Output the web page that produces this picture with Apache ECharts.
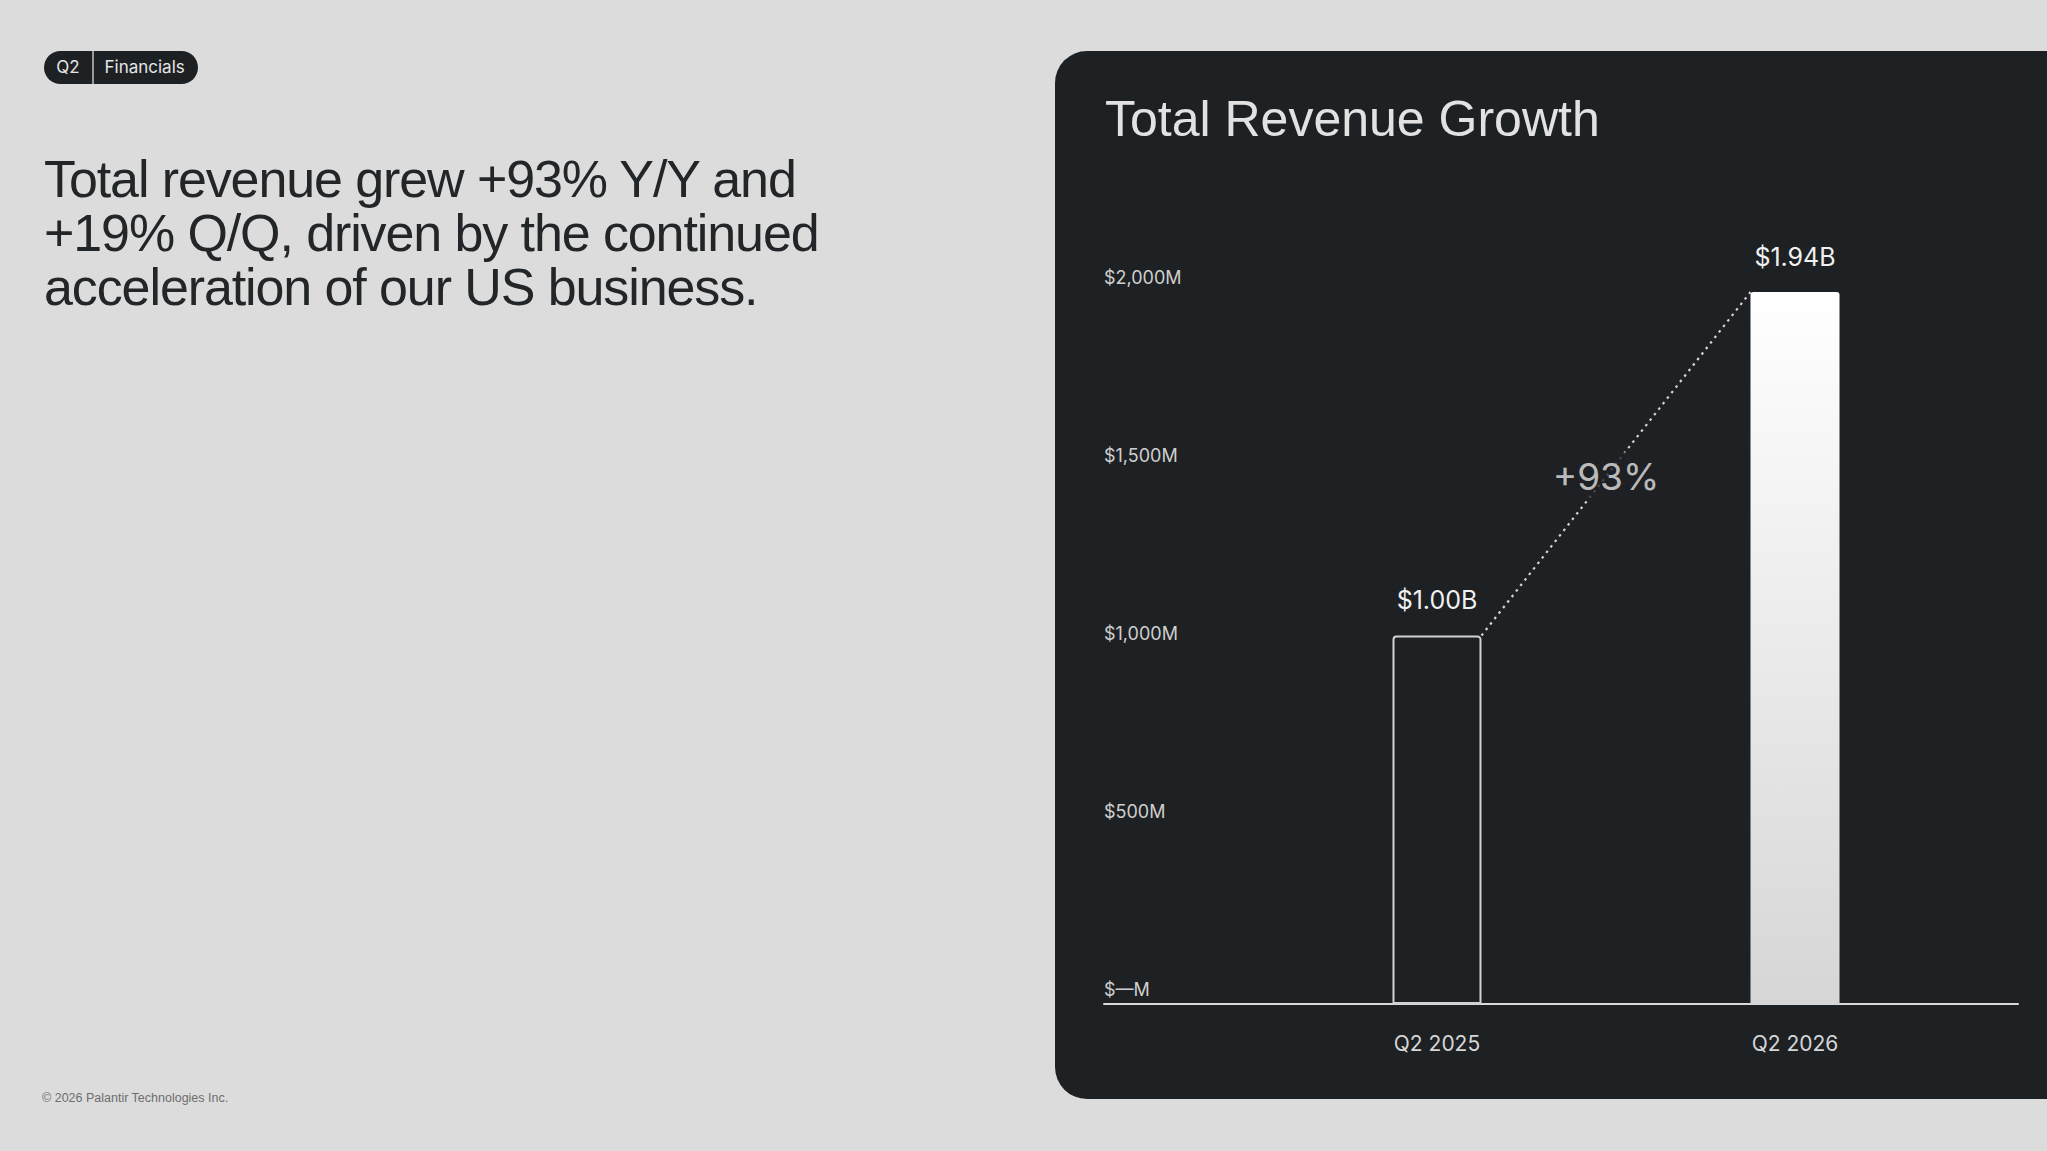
<!DOCTYPE html>
<html>
<head>
<meta charset="utf-8">
<title>Total Revenue Growth</title>
<script src="https://cdn.jsdelivr.net/npm/echarts@6/dist/echarts.min.js"></script>
<style>
    html, body {
        margin: 0;
        padding: 0;
        width: 2047px;
        height: 1151px;
        overflow: hidden;
        background: #dcdcdc;
    }
    .pill {
        position: absolute;
        left: 44px;
        top: 51px;
        height: 33px;
        display: flex;
        align-items: center;
        background: #1e2124;
        border-radius: 17px;
        color: #e6e6e6;
        font-family: Inter, sans-serif;
        font-size: 17px;
    }
    .pill span {
        display: block;
        line-height: 33px;
    }
    .pill .q {
        width: 48px;
        text-align: center;
    }
    .pill .sep {
        width: 1.5px;
        height: 33px;
        background: #9a9a9a;
    }
    .pill .f {
        padding: 0 13px 0 11px;
    }
    .headline {
        position: absolute;
        left: 44px;
        top: 152px;
        margin: 0;
        font-family: "Liberation Sans", Arial, sans-serif;
        font-weight: normal;
        font-size: 52px;
        line-height: 54px;
        letter-spacing: -1.1px;
        color: #232629;
    }
    .footer {
        position: absolute;
        left: 42px;
        top: 1091px;
        font-family: "Liberation Sans", Arial, sans-serif;
        font-size: 12.5px;
        line-height: 15px;
        color: #6e6e6e;
    }
    #panel {
        position: absolute;
        left: 1055px;
        top: 51px;
        width: 992px;
        height: 1048px;
        background: #1e2124;
        border-radius: 32px 0 0 32px;
    }
</style>
</head>
<body>
<div class="pill"><span class="q">Q2</span><span class="sep"></span><span class="f">Financials</span></div>
<h1 class="headline">Total revenue grew +93% Y/Y and<br>+19% Q/Q, driven by the continued<br>acceleration of our US business.</h1>
<div class="footer">© 2026 Palantir Technologies Inc.</div>
<div id="panel"></div>
<script>
// revenue in $M
var quarters = ['Q2 2025', 'Q2 2026'];
var revenue = [1004, 1940];
var valueLabels = ['$1.00B', '$1.94B'];
var growthLabel = '+93%';
var yTicks = [0, 500, 1000, 1500, 2000];
var yTickLabels = ['$\u2014M', '$500M', '$1,000M', '$1,500M', '$2,000M'];

var panelColor = '#1e2124';
var barWidth = 89;
var categoryWidth = 358;
// bar corners in the hidden value axis (category i centred on i)
var barHalf = barWidth / 2 / categoryWidth;

var chartDom = document.getElementById('panel');
var myChart = echarts.init(chartDom, null, { renderer: 'svg' });
var option;

option = {
    backgroundColor: 'transparent',
    animation: false,
    title: {
        text: 'Total Revenue Growth',
        left: 50,
        top: 43,
        padding: 0,
        textStyle: {
            fontFamily: '"Liberation Sans", Arial, sans-serif',
            fontWeight: 'normal',
            fontSize: 50,
            color: '#e2e2e2'
        }
    },
    grid: [
        { left: 49, right: 29, top: 241, bottom: 95 },
        { left: 203, right: 73, top: 219, bottom: 95 }
    ],
    xAxis: [
        {
            gridIndex: 0,
            type: 'value',
            min: 0,
            max: 1,
            axisLine: { show: true, lineStyle: { color: '#d9d9d9', width: 2 } },
            axisTick: { show: false },
            axisLabel: { show: false },
            splitLine: { show: false }
        },
        {
            gridIndex: 1,
            type: 'category',
            data: quarters,
            axisLine: { show: false },
            axisTick: { show: false },
            axisLabel: {
                margin: 29,
                fontFamily: 'Inter, sans-serif',
                fontSize: 21,
                color: '#d6d6d6'
            }
        },
        {
            gridIndex: 1,
            type: 'value',
            min: -0.5,
            max: 1.5,
            show: false
        }
    ],
    yAxis: [
        {
            gridIndex: 0,
            type: 'value',
            min: yTicks[0],
            max: yTicks[yTicks.length - 1],
            interval: 500,
            axisLine: { show: false },
            axisTick: { show: false },
            splitLine: { show: false },
            axisLabel: {
                inside: true,
                margin: 0,
                align: 'left',
                verticalAlign: 'bottom',
                padding: [0, 0, 6, 0],
                fontFamily: 'Inter, sans-serif',
                fontSize: 18,
                color: '#cfcfcf',
                formatter: function (value) {
                    return yTickLabels[yTicks.indexOf(value)];
                }
            }
        },
        {
            gridIndex: 1,
            type: 'value',
            min: 0,
            max: 2000,
            show: false
        }
    ],
    series: [
        {
            type: 'bar',
            xAxisIndex: 1,
            yAxisIndex: 1,
            barWidth: barWidth,
            data: revenue.map(function (v, i) {
                var item = { value: v };
                if (i === 0) {
                    item.itemStyle = {
                        color: panelColor,
                        borderColor: '#d2d2d2',
                        borderWidth: 2,
                        borderRadius: [3, 3, 0, 0]
                    };
                } else {
                    item.itemStyle = {
                        borderRadius: [3, 3, 0, 0],
                        color: {
                            type: 'linear', x: 0, y: 0, x2: 0, y2: 1,
                            colorStops: [
                                { offset: 0, color: '#ffffff' },
                                { offset: 1, color: '#d6d6d6' }
                            ]
                        }
                    };
                }
                return item;
            }),
            label: {
                show: true,
                position: 'top',
                distance: 23,
                fontFamily: 'Inter, sans-serif',
                fontSize: 25,
                color: '#f0f0f0',
                formatter: function (p) {
                    return valueLabels[p.dataIndex];
                }
            }
        },
        {
            type: 'line',
            xAxisIndex: 2,
            yAxisIndex: 1,
            symbol: 'none',
            z: 3,
            lineStyle: { color: '#d4d4d4', width: 2.2, type: [2.5, 4.5] },
            data: [[barHalf, revenue[0]], [1 - barHalf, revenue[1]]]
        },
        {
            type: 'scatter',
            xAxisIndex: 2,
            yAxisIndex: 1,
            symbolSize: 0,
            z: 4,
            data: [[0.5, (revenue[0] + revenue[1]) / 2]],
            label: {
                show: true,
                position: 'inside',
                offset: [-10, 13],
                padding: [6, 4],
                backgroundColor: panelColor,
                fontFamily: 'Inter, sans-serif',
                fontSize: 37,
                color: '#e6e6e6',
                formatter: function () {
                    return growthLabel;
                }
            }
        }
    ]
};

option && myChart.setOption(option);
</script>
</body>
</html>
